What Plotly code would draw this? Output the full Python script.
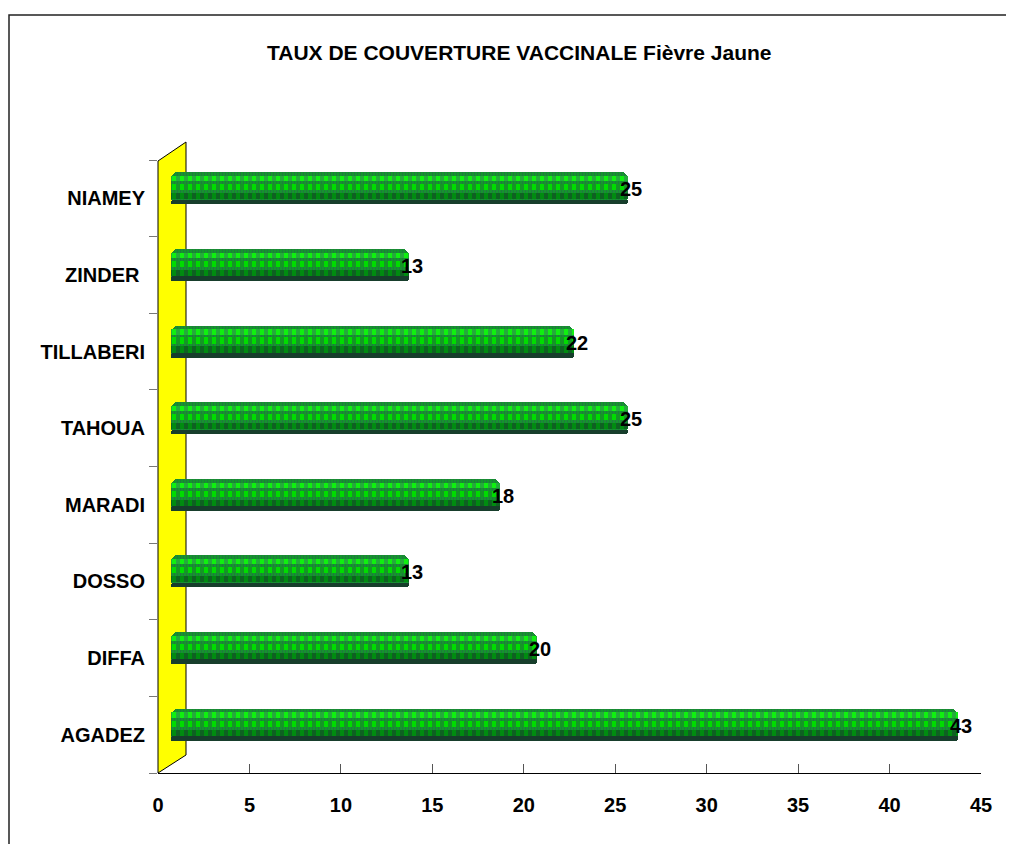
import plotly.graph_objects as go

regions = ["AGADEZ", "DIFFA", "DOSSO", "MARADI", "TAHOUA", "TILLABERI", "ZINDER ", "NIAMEY"]
coverage = [43, 20, 13, 18, 25, 22, 13, 25]
x_ticks = [0, 5, 10, 15, 20, 25, 30, 35, 40, 45]
title_text = "TAUX DE COUVERTURE VACCINALE Fièvre Jaune"

OFF = 8  # page body margin
W, H = 1006, 836
# plot area in screen pixels
SX0, SX1, SY0, SY1 = 158, 981, 142, 773
L, R = SX0 - OFF, W - (SX1 - OFF)
T, B = SY0 - OFF, H - (SY1 - OFF)
PW, PH = SX1 - SX0, SY1 - SY0

def px(x):
    return (x - SX0) / PW

def py(y):
    return (SY1 - y) / PH

FONT = "Liberation Sans, Arial, sans-serif"
depth = 0.72  # 3D depth offset of bars along value axis

fig = go.Figure()

def layer(offset, width, color, pattern=None, radius=0):
    marker = dict(color=color, line=dict(width=0))
    if radius:
        marker["cornerradius"] = radius
    if pattern:
        marker["pattern"] = pattern
    fig.add_trace(go.Bar(
        y=regions, x=coverage, base=depth, orientation="h",
        offset=offset, width=width, marker=marker,
        hoverinfo="skip", showlegend=False,
    ))

# cylinder body with fine checker
layer(-0.078, 0.417, "#1a7a32",
      dict(shape="|", fgcolor="#2a5e50", bgcolor="#129a2a", size=3, solidity=0.5), radius=7)
# dark bottom edge
layer(-0.078, 0.06, "#173e2c", radius=4)
# checker rows (top -> bottom)
layer(0.222, 0.068, "#10f010",
      dict(shape="|", fgcolor="#3a6565", bgcolor="#10f010", size=8, solidity=0.5))
layer(0.104, 0.08, "#00dc00",
      dict(shape="|", fgcolor="#2a4e4c", bgcolor="#00dc00", size=8, solidity=0.5))
layer(-0.013, 0.08, "#008c10",
      dict(shape="|", fgcolor="#1e3634", bgcolor="#008c10", size=8, solidity=0.5))

value_labels = [
    dict(x=v + depth, y=r, text=str(v), xref="x", yref="y", showarrow=False,
         xanchor="center", yanchor="middle", xshift=3, yshift=9,
         font=dict(family=FONT, size=20, color="black", weight="bold"))
    for r, v in zip(regions, coverage)
]

# yellow side wall
wall = (f"M {px(158)},{py(773)} L {px(158)},{py(161)} L {px(186)},{py(142)} "
        f"L {px(186)},{py(755)} Z")
shapes = [
    dict(type="path", path=wall, xref="paper", yref="paper",
         fillcolor="#ffff00", line=dict(color="black", width=1), layer="below"),
    # chart border
    dict(type="rect", xref="paper", yref="paper",
         x0=px(9), y0=py(900), x1=px(1060), y1=py(15),
         line=dict(color="#222222", width=1.5), fillcolor="rgba(0,0,0,0)", layer="below"),
]

fig.update_layout(
    width=W, height=H,
    margin=dict(l=L, r=R, t=T, b=B, autoexpand=False),
    paper_bgcolor="white", plot_bgcolor="rgba(0,0,0,0)",
    barmode="overlay", bargap=0,
    shapes=shapes,
    annotations=[dict(text=title_text, xref="paper", yref="paper",
                      x=px(519), y=py(52), xanchor="center", yanchor="middle",
                      showarrow=False,
                      font=dict(family=FONT, size=21, color="black", weight="bold"))]
                + value_labels,
    font=dict(family=FONT, color="black"),
)
fig.update_xaxes(
    range=[0, 45], tickvals=x_ticks, ticktext=[str(t) for t in x_ticks],
    showgrid=False, zeroline=False, showline=True, linecolor="black", linewidth=1,
    ticks="inside", ticklen=9, tickcolor="#555555",
    tickfont=dict(family=FONT, size=20, color="black", weight="bold"),
    ticklabelstandoff=14,
    fixedrange=True,
)
fig.update_yaxes(
    type="category", categoryorder="array", categoryarray=regions,
    range=[-0.5, 7.735], tickson="boundaries",
    showgrid=False, zeroline=False, showline=False,
    ticks="outside", ticklen=8, tickcolor="#777777",
    tickfont=dict(family=FONT, size=20, color="black", weight="bold"),
    ticklabelstandoff=12,
    fixedrange=True,
)

fig.write_html("out.html")
